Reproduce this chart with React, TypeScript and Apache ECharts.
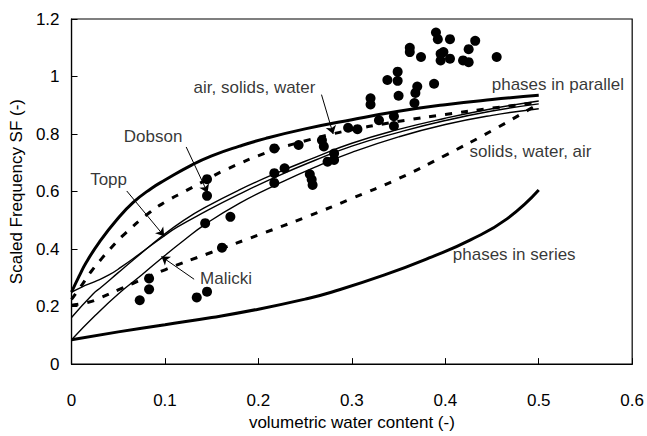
import React, { useEffect, useRef } from "react";
import * as echarts from "echarts";

// Model curves: [volumetric water content, scaled frequency]
const parallelCurve: number[][] = [
  [0, 0.25], [0.008, 0.305], [0.016, 0.355], [0.03, 0.425], [0.048, 0.5],
  [0.066, 0.562], [0.085, 0.61], [0.1, 0.64], [0.129, 0.693], [0.15, 0.724],
  [0.179, 0.757], [0.208, 0.785], [0.25, 0.818], [0.3, 0.85], [0.35, 0.879],
  [0.4, 0.902], [0.45, 0.92], [0.5, 0.935],
];
const seriesCurve: number[][] = [
  [0, 0.085], [0.05, 0.112], [0.1, 0.137], [0.15, 0.162], [0.2, 0.191],
  [0.25, 0.226], [0.278, 0.25], [0.335, 0.31], [0.385, 0.372], [0.427, 0.432],
  [0.466, 0.505], [0.5, 0.605],
];
const airSolidsWater: number[][] = [
  [0, 0.225], [0.011, 0.275], [0.021, 0.322], [0.032, 0.366], [0.042, 0.403],
  [0.057, 0.453], [0.0835, 0.527], [0.1, 0.563], [0.122, 0.602], [0.145, 0.642],
  [0.165, 0.676], [0.214, 0.742], [0.243, 0.77], [0.275, 0.797], [0.3, 0.815],
  [0.335, 0.836], [0.36, 0.849], [0.4, 0.868], [0.45, 0.89], [0.5, 0.91],
];
const solidsWaterAir: number[][] = [
  [0, 0.205], [0.018, 0.215], [0.032, 0.232], [0.05, 0.258], [0.066, 0.281],
  [0.1, 0.328], [0.15, 0.389], [0.2, 0.449], [0.254, 0.515], [0.3, 0.576],
  [0.35, 0.645], [0.4, 0.726], [0.45, 0.812], [0.5, 0.905],
];
const toppCurve: number[][] = [
  [0, 0.162], [0.023, 0.244], [0.032, 0.268], [0.05, 0.318], [0.066, 0.362],
  [0.098, 0.448], [0.12, 0.5], [0.143, 0.545], [0.179, 0.605], [0.22, 0.665],
  [0.26, 0.718], [0.3, 0.768], [0.35, 0.816], [0.4, 0.855], [0.45, 0.888],
  [0.5, 0.915],
];
const dobsonCurve: number[][] = [
  [0, 0.25], [0.011, 0.268], [0.025, 0.287], [0.04, 0.31], [0.053, 0.337],
  [0.074, 0.386], [0.095, 0.436], [0.113, 0.476], [0.143, 0.53], [0.179, 0.59],
  [0.22, 0.653], [0.26, 0.708], [0.3, 0.758], [0.35, 0.806], [0.4, 0.847],
  [0.45, 0.88], [0.5, 0.905],
];
const malickiCurve: number[][] = [
  [0, 0.085], [0.025, 0.168], [0.05, 0.244], [0.075, 0.31], [0.097, 0.37],
  [0.12, 0.43], [0.143, 0.486], [0.18, 0.56], [0.22, 0.625], [0.26, 0.684],
  [0.3, 0.736], [0.35, 0.79], [0.4, 0.833], [0.45, 0.865], [0.5, 0.888],
];

// Measured points
const measured: number[][] = [
  [0.073, 0.222], [0.083, 0.26], [0.083, 0.298], [0.134, 0.232], [0.145, 0.252],
  [0.143, 0.49], [0.145, 0.585], [0.145, 0.643], [0.161, 0.405], [0.17, 0.512],
  [0.217, 0.63], [0.217, 0.664], [0.217, 0.75], [0.228, 0.681], [0.243, 0.762],
  [0.255, 0.66], [0.257, 0.642], [0.258, 0.623], [0.268, 0.778], [0.27, 0.757],
  [0.274, 0.704], [0.281, 0.732], [0.281, 0.71], [0.296, 0.822], [0.306, 0.817],
  [0.32, 0.903], [0.32, 0.924], [0.329, 0.848], [0.345, 0.828], [0.345, 0.862],
  [0.338, 0.988], [0.349, 1.017], [0.349, 0.985], [0.35, 0.933], [0.367, 0.908],
  [0.368, 0.943], [0.37, 0.965], [0.362, 1.085], [0.362, 1.1], [0.374, 1.068],
  [0.388, 0.975], [0.39, 1.153], [0.392, 1.13], [0.395, 1.079], [0.395, 1.056],
  [0.398, 1.085], [0.405, 1.13], [0.405, 1.062], [0.419, 1.056], [0.425, 1.095],
  [0.425, 1.05], [0.432, 1.124], [0.455, 1.068],
];

// Curve labels: [x, y] anchor (left edge, vertical centre) and text
const labelTexts = [
  "air, solids, water", "phases in parallel", "solids, water, air",
  "phases in series", "Dobson", "Topp", "Malicki",
];
const labelAnchors: number[][] = [
  [0.1306, 0.963], [0.4497, 0.971], [0.426, 0.738], [0.408, 0.38],
  [0.0559, 0.792], [0.0199, 0.642], [0.1375, 0.296],
];

// Leader arrows: start and end points
const arrowLines: number[][][] = [
  [[0.2675, 0.937], [0.28, 0.8]],
  [[0.1227, 0.755], [0.1456, 0.596]],
  [[0.0591, 0.602], [0.0992, 0.445]],
  [[0.1312, 0.295], [0.0962, 0.374]],
];

const FONT = "'Liberation Sans', Arial, Helvetica, sans-serif";
const FS = 17;

function curve(data: number[][], width: number, dashed: boolean) {
  return {
    type: "line",
    data,
    smooth: 0.5,
    showSymbol: false,
    symbol: "none",
    silent: true,
    lineStyle: {
      color: "#000",
      width,
      type: dashed ? [7, 9] : "solid",
      cap: "butt",
    },
    z: 2,
  };
}

export default function App() {
  const ref = useRef<HTMLDivElement>(null);

  useEffect(() => {
    document.body.style.margin = "0";
    const chart = echarts.init(ref.current!, null, { renderer: "svg" });
    const option = {
      animation: false,
      backgroundColor: "#fff",
      textStyle: { fontFamily: FONT, color: "#000" },
      grid: {
        left: 71,
        right: 11,
        top: 19,
        bottom: 65,
        show: true,
        borderColor: "#000",
        borderWidth: 1.2,
        containLabel: false,
      },
      xAxis: {
        type: "value",
        min: 0,
        max: 0.6,
        interval: 0.1,
        name: "volumetric water content (-)",
        nameLocation: "middle",
        nameGap: 44,
        nameTextStyle: { fontSize: FS, color: "#000", fontFamily: FONT },
        axisLine: { show: true, lineStyle: { color: "#000", width: 1.2 } },
        axisTick: { show: true, inside: true, length: 6, lineStyle: { color: "#000" } },
        axisLabel: { fontSize: FS, color: "#000", margin: 28, fontFamily: FONT },
        splitLine: { show: false },
      },
      yAxis: {
        type: "value",
        min: 0,
        max: 1.2,
        interval: 0.2,
        name: "Scaled Frequency SF (-)",
        nameLocation: "middle",
        nameGap: 46,
        nameTextStyle: { fontSize: FS, color: "#000", fontFamily: FONT },
        axisLine: { show: true, lineStyle: { color: "#000", width: 1.2 } },
        axisTick: { show: true, inside: true, length: 6, lineStyle: { color: "#000" } },
        axisLabel: { fontSize: FS, color: "#000", margin: 12, fontFamily: FONT },
        splitLine: { show: false },
      },
      series: [
        curve(parallelCurve, 3, false),
        curve(seriesCurve, 3, false),
        curve(airSolidsWater, 3, true),
        curve(solidsWaterAir, 3, true),
        curve(toppCurve, 1.4, false),
        curve(dobsonCurve, 1.4, false),
        curve(malickiCurve, 1.4, false),
        {
          type: "scatter",
          data: measured,
          symbol: "circle",
          symbolSize: 10,
          itemStyle: { color: "#000", opacity: 1 },
          silent: true,
          z: 3,
        },
        {
          type: "scatter",
          data: labelAnchors.map((p, i) => ({ value: p, name: labelTexts[i] })),
          symbolSize: 0,
          silent: true,
          label: {
            show: true,
            position: "right",
            distance: 0,
            formatter: (p: any) => p.name,
            fontSize: FS,
            color: "#000",
            fontFamily: FONT,
          },
          markLine: {
            silent: true,
            symbol: ["none", "arrow"],
            symbolSize: 8,
            precision: 4,
            label: { show: false },
            lineStyle: { color: "#000", width: 1, type: "solid" },
            data: arrowLines.map((seg) => [
              { coord: seg[0] },
              { coord: seg[1] },
            ]),
          },
          z: 4,
        },
      ],
    };
    chart.setOption(option as any);
    return () => chart.dispose();
  }, []);

  return <div ref={ref} style={{ width: 647, height: 436 }} />;
}
